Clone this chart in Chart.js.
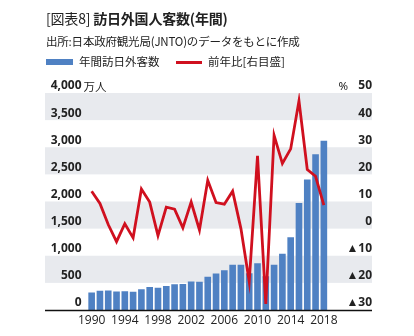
<!DOCTYPE html>
<html><head><meta charset="utf-8">
<script src="https://cdn.jsdelivr.net/npm/chart.js@4.4.1/dist/chart.umd.min.js"></script>
<style>
html,body{margin:0;padding:0;background:#fff;}
#wrap{position:relative;width:414px;height:336px;overflow:hidden;font-family:"Noto Sans CJK JP","Noto Sans",sans-serif;color:#222;}
#title{position:absolute;left:46px;top:8px;font-size:14px;font-weight:700;white-space:nowrap;letter-spacing:-0.2px;}
#title .lt{font-weight:400;}
#sub{position:absolute;left:46px;top:33px;font-size:11.5px;white-space:nowrap;letter-spacing:-0.2px;}
#leg{position:absolute;left:46px;top:53px;font-size:11.5px;white-space:nowrap;}
.li{position:absolute;top:0;white-space:nowrap;}
.sw{position:absolute;}
canvas{position:absolute;left:0;top:0;}
</style></head>
<body>
<div id="wrap">
<canvas id="c" width="414" height="336"></canvas>
<div id="title"><span class="lt">[図表8]</span> 訪日外国人客数(年間)</div>
<div id="sub">出所:日本政府観光局(JNTO)のデータをもとに作成</div>
<div id="leg">
  <div class="sw" style="left:0;top:6px;width:27px;height:6px;background:#4f81c3"></div>
  <div class="li" style="left:33px;">年間訪日外客数</div>
  <div class="sw" style="left:130px;top:8px;width:26px;height:3px;background:#d0101f"></div>
  <div class="li" style="left:162px;">前年比[右目盛]</div>
</div>
</div>
<script>
const years = [1990,1991,1992,1993,1994,1995,1996,1997,1998,1999,2000,2001,2002,2003,2004,2005,2006,2007,2008,2009,2010,2011,2012,2013,2014,2015,2016,2017,2018];
const visitors = [324,353,358,341,347,335,384,422,411,444,476,477,524,521,614,673,733,835,835,679,861,622,836,1036,1341,1974,2404,2869,3119];
const growth = [13.8,9.3,1.5,-4.8,1.8,-3.4,14.6,9.8,-2.6,7.9,7.2,0.3,9.8,-0.5,17.8,9.6,9.0,13.8,0.0,-19.5,26.8,-27.8,34.4,24.0,29.4,47.1,21.8,19.3,8.7];
const leftTicks = [0,500,1000,1500,2000,2500,3000,3500,4000];
const rightTicks = [-30,-20,-10,0,10,20,30,40,50];
const xLabelYears = [1990,1994,1998,2002,2006,2010,2014,2018];

const bandPlugin = {
  id: 'bands',
  beforeDraw(chart) {
    const ctx = chart.ctx, y = chart.scales.yL;
    const x0 = 45, x1 = 372;
    ctx.save();
    ctx.fillStyle = '#e8eaee';
    for (let i = 1; i < leftTicks.length - 1; i += 2) {
      const top = y.getPixelForValue(leftTicks[i+1]);
      const bot = y.getPixelForValue(leftTicks[i]);
      ctx.fillRect(x0, top, x1 - x0, bot - top);
    }
    ctx.restore();
  },
  afterDatasetsDraw(chart) {
    const ctx = chart.ctx, a = chart.chartArea;
    ctx.save();
    ctx.strokeStyle = '#111';
    ctx.lineWidth = 1.5;
    ctx.beginPath();
    ctx.moveTo(45, a.bottom + 0.5);
    ctx.lineTo(372, a.bottom + 0.5);
    ctx.stroke();
    const yL = chart.scales.yL, yR = chart.scales.yR;
    ctx.fillStyle = '#222';
    ctx.textBaseline = 'middle';
    ctx.font = '11.5px "Noto Sans CJK JP"';
    ctx.textAlign = 'left';
    ctx.fillText('万人', a.left - 4, yL.getPixelForValue(4000) - 6);
    ctx.font = '11.5px "Noto Sans"';
    ctx.textAlign = 'right';
    ctx.fillText('%', a.right + 20, yR.getPixelForValue(50) - 6);
    ctx.restore();
  }
};

const fmt = v => v.toLocaleString('en-US');

new Chart(document.getElementById('c'), {
  data: {
    labels: years.map(String),
    datasets: [
      { type: 'line', label: '前年比[右目盛]', data: growth, yAxisID: 'yR',
        borderColor: '#d0101f', borderWidth: 2.8, pointRadius: 0, tension: 0, order: 0 },
      { type: 'bar', label: '年間訪日外客数', data: visitors, yAxisID: 'yL',
        backgroundColor: '#4f81c3', barPercentage: 0.8, categoryPercentage: 1.0, order: 1 }
    ]
  },
  options: {
    responsive: false,
    animation: false,
    events: [],
    layout: { padding: { left: 45, right: 42, top: 93, bottom: 0 } },
    plugins: { legend: { display: false }, tooltip: { enabled: false }, title: { display: false } },
    scales: {
      x: {
        grid: { display: false, drawTicks: false },
        border: { display: false },
        ticks: {
          autoSkip: false, maxRotation: 0, padding: 3,
          color: '#222', font: { family: '"Open Sans"', size: 12 },
          callback: function(v, i) { const yr = years[i]; return xLabelYears.includes(yr) ? String(yr) : ''; }
        },
        afterFit(s) { s.height = 26; }
      },
      yL: {
        type: 'linear', position: 'left', min: 0, max: 4000,
        afterBuildTicks(s) { s.ticks = leftTicks.map(v => ({ value: v })); },
        grid: { display: false, drawTicks: false },
        border: { display: false },
        ticks: { autoSkip: false, padding: 6, labelOffset: -7, color: '#222',
          font: { family: '"Open Sans"', size: 12, weight: '700' },
          callback: v => fmt(v) },
        afterFit(s) { s.width = 42.5; }
      },
      yR: {
        type: 'linear', position: 'right', min: -30, max: 50,
        afterBuildTicks(s) { s.ticks = rightTicks.map(v => ({ value: v })); },
        grid: { display: false, drawTicks: false },
        border: { display: false },
        ticks: { autoSkip: false, padding: 6, labelOffset: -7, color: '#222', crossAlign: 'far',
          font: { family: '"Open Sans"', size: 12, weight: '700' },
          callback: v => v < 0 ? '▲' + Math.abs(v) : String(v) },
        afterFit(s) { s.width = 44; }
      }
    }
  },
  plugins: [bandPlugin]
});
</script>
</body></html>
